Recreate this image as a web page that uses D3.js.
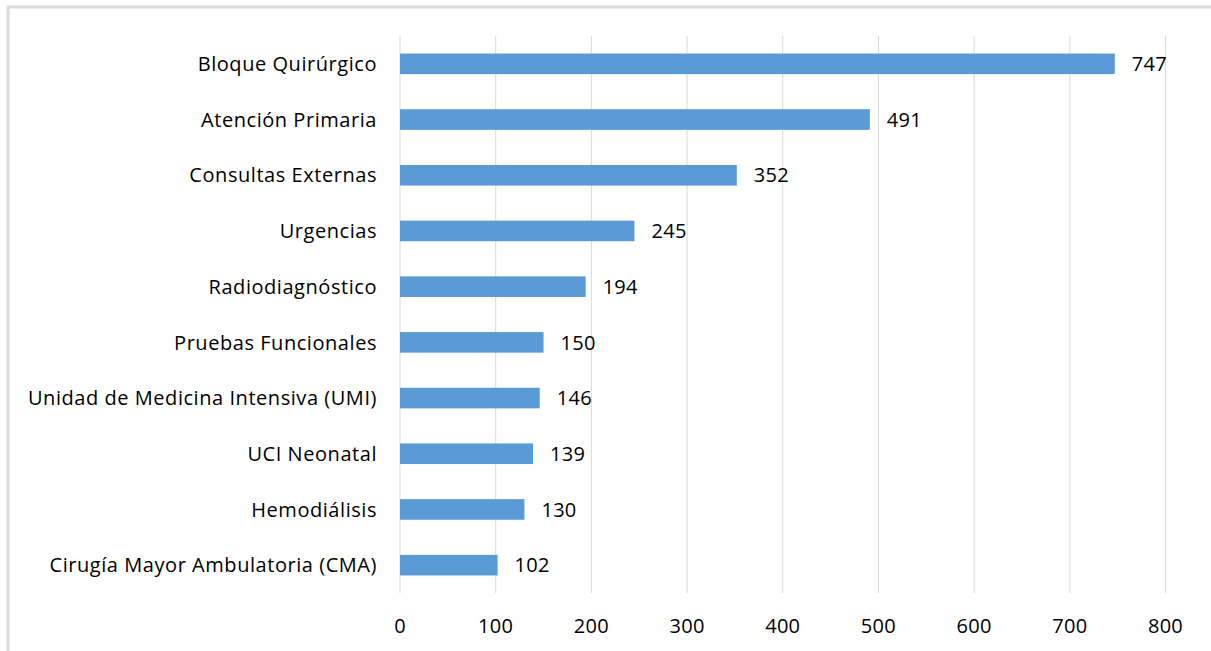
<!DOCTYPE html>
<html><head><meta charset="utf-8">
<script src="https://cdn.jsdelivr.net/npm/d3@7"></script>
<style>body{margin:0;background:#fff}svg{display:block}text{font-family:"Open Sans",Arial,sans-serif;fill:#000}</style>
</head><body><svg id="c" width="1211" height="651"></svg>
<script>
const categories = ["Bloque Quirúrgico","Atención Primaria","Consultas Externas","Urgencias","Radiodiagnóstico","Pruebas Funcionales","Unidad de Medicina Intensiva (UMI)","UCI Neonatal","Hemodiálisis","Cirugía Mayor Ambulatoria (CMA)"];
const values = [747,491,352,245,194,150,146,139,130,102];
const ticks = [0,100,200,300,400,500,600,700,800];

const svg = d3.select("#c");
svg.append("rect").attr("x",8).attr("y",7).attr("width",1220).attr("height",660)
  .attr("fill","none").attr("stroke","#d9d9d9").attr("stroke-width",3);

const x = d3.scaleLinear().domain([0,800]).range([400,1165.5]);
const y = d3.scaleBand().domain(categories).range([36,593]).paddingInner(0.63).paddingOuter(0.315);

svg.append("g").selectAll("line").data(ticks).join("line")
  .attr("x1",d=>x(d)).attr("x2",d=>x(d)).attr("y1",36).attr("y2",593)
  .attr("stroke","#d9d9d9").attr("stroke-width",1);

svg.append("g").selectAll("rect").data(values).join("rect")
  .attr("x",x(0)).attr("y",(d,i)=>y(categories[i])).attr("width",d=>x(d)-x(0)).attr("height",y.bandwidth())
  .attr("fill","#5b9bd5");

svg.append("g").selectAll("text").data(values).join("text")
  .attr("x",d=>x(d)+17).attr("y",(d,i)=>y(categories[i])+y.bandwidth()/2).attr("dy","0.36em")
  .style("font-size","20px").style("letter-spacing","0.3px").text(d=>d);

svg.append("g").selectAll("text").data(categories).join("text")
  .attr("x",377).attr("y",d=>y(d)+y.bandwidth()/2).attr("dy","0.36em").attr("text-anchor","end")
  .style("font-size","20px").style("letter-spacing","0.55px").text(d=>d);

svg.append("g").selectAll("text").data(ticks).join("text")
  .attr("x",d=>x(d)).attr("y",626).attr("dy","0.36em").attr("text-anchor","middle")
  .style("font-size","20px").style("letter-spacing","0.3px").text(d=>d);
</script></body></html>
